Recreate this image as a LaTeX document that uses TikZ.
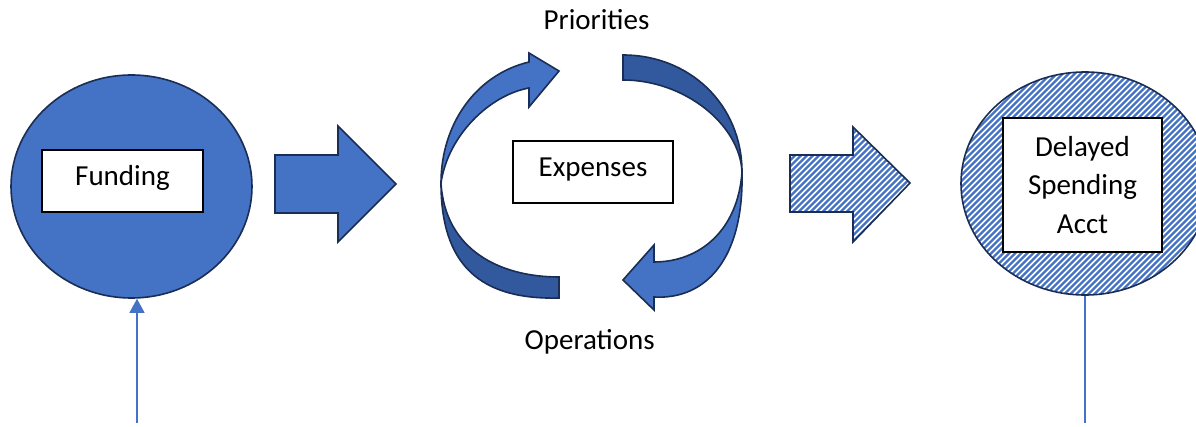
\documentclass[tikz,border=0pt]{standalone}
\usepackage{fontspec}
\setmainfont{Carlito}
\usetikzlibrary{shapes.geometric,arrows.meta}

\definecolor{accent}{RGB}{68,114,196}
\definecolor{accentdark}{RGB}{50,88,158}
\definecolor{navy}{RGB}{26,45,84}

\tikzset{
  blob/.style={ellipse, draw=navy, line width=0.8pt, inner sep=0pt},
  label box/.style={rectangle, draw=black, line width=0.8pt, fill=white,
    inner sep=0pt, align=center},
  caption/.style={anchor=base, inner sep=0pt},
  block/.style={draw=navy, line width=0.8pt, line join=miter},
  feed/.style={draw=accent, line width=0.6pt},
  % white fill crossed by thin blue north-east stripes
  hatched/.style={fill=white, path picture={
      \begin{scope}[shift={(path picture bounding box.center)}]
        \foreach \c in {-50,...,50}
          {\draw[accent, line width=1.1pt]
             (\c*3pt-150pt,-150pt) -- (\c*3pt+150pt,150pt);}
      \end{scope}}},
}

\begin{document}
\begin{tikzpicture}[x=0.5pt, y=-0.5pt,
  every node/.style={font=\fontsize{14.5pt}{19.2pt}\selectfont}]
\useasboundingbox (0,0) rectangle (1196,427);

% source of funds
\node[blob, fill=accent, minimum width=120.5pt, minimum height=111.5pt]
  (fund) at (131.5,186.5) {};
\node[label box, minimum width=80.5pt, minimum height=31pt,
  text height=0.7em, text depth=0.2em] (funding) at (122.5,181) {Funding};
\coordinate (fundsrc) at (137,423);
\draw[feed, -{Triangle[width=7.5pt,length=7pt]}]
  (fundsrc) -- (fundsrc |- fund.south);

% solid block arrow
\path[block, fill=accent]
  (275,155) -- (338,155) -- (338,126) -- (396,184) -- (338,242)
  -- (338,213) -- (275,213) -- cycle;

% spending cycle: left arrow (tail behind, head in front)
\path[block, fill=accentdark]
  (441,183) .. controls (441,265) and (480,300) .. (559,298)
  -- (559,277) .. controls (500,277) and (445,250) .. (441,183) -- cycle;
\path[block, fill=accent]
  (441,183) .. controls (441,125) and (475,75) .. (529,62)
  -- (529,53) -- (559,71) -- (529,107) -- (529,88)
  .. controls (490,95) and (448,135) .. (441,183) -- cycle;

% spending cycle: right arrow
\path[block, fill=accentdark]
  (623,55) .. controls (690,55) and (742,105) .. (742,172)
  .. controls (740,125) and (685,80) .. (623,80) -- cycle;
\path[block, fill=accent]
  (742,172) .. controls (744,260) and (705,300) .. (654,297)
  -- (654,310) -- (623,280) -- (654,245) -- (654,262)
  .. controls (700,262) and (738,230) .. (742,172) -- cycle;

\node[label box, minimum width=80pt, minimum height=31pt,
  text height=0.7em, text depth=0.2em] (expenses) at (593,172) {Expenses};
\node[caption] (priorities) at (596.5,29.3) {Priorities};
\node[caption] (operations) at (589.7,350) {Operations};

% hatched block arrow
\path[block, hatched]
  (790,155) -- (853,155) -- (853,127) -- (910,183) -- (853,242)
  -- (853,212) -- (790,212) -- cycle;

% delayed spending account
\node[blob, hatched, minimum width=124pt, minimum height=111.5pt]
  (dsa) at (1085,183.5) {};
\node[label box, minimum width=79.5pt, minimum height=67pt]
  (dsabox) at (1082.5,185) {Delayed\\Spending\\Acct};
\coordinate (dsaout) at (1085,423);
\draw[feed] (dsa.south) -- (dsaout);
\end{tikzpicture}
\end{document}
